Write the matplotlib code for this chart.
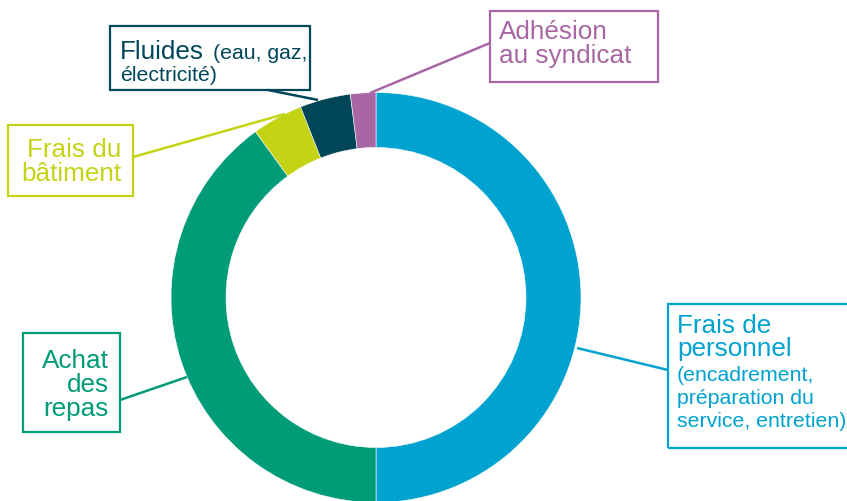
import matplotlib.pyplot as plt
from matplotlib.patches import Rectangle

# -----------------------------
# Data
# -----------------------------
categories = ["Frais de personnel", "Achat des repas", "Frais du bâtiment",
              "Fluides", "Adhésion au syndicat"]
shares = [50, 40, 4, 4, 2]
colors = ["#00A2D0", "#009B77", "#C4D313", "#004659", "#A866A4"]

W, H = 847, 501
plt.rcParams["font.family"] = ["Liberation Sans", "DejaVu Sans"]

fig = plt.figure(figsize=(W / 100, H / 100), dpi=100)
ax = fig.add_axes([0, 0, 1, 1])
ax.set_xlim(0, W)
ax.set_ylim(0, H)
ax.set_aspect("equal")
ax.axis("off")


def Y(y):
    # image row (top down) -> axes y
    return H - y


# donut
ax.pie(shares, colors=colors, startangle=90, counterclock=False,
       center=(376, Y(297.5)), radius=205,
       wedgeprops=dict(width=55, edgecolor="white", linewidth=0.4))
ax.set_xlim(0, W)
ax.set_ylim(0, H)

BIG = 18.8
SMALL = 15.3


def box(x0, y0, x1, y1, color):
    ax.add_patch(Rectangle((x0, Y(y1)), x1 - x0, y1 - y0, fill=False,
                           edgecolor=color, linewidth=1.6, clip_on=False))


def line(p, q, color):
    ax.plot([p[0], q[0]], [Y(p[1]), Y(q[1])], color=color, lw=1.8,
            solid_capstyle="butt")


def txt(x, y, s, color, size, ha="left"):
    ax.text(x, Y(y), s, color=color, fontsize=size, ha=ha, va="baseline")


c_pers, c_repas, c_bat, c_flu, c_adh = colors

# Adhésion au syndicat
line((370, 93), (490, 43), c_adh)
box(490, 11, 658, 82, c_adh)
txt(499, 39, "Adhésion", c_adh, BIG)
txt(499, 63, "au syndicat", c_adh, BIG)

# Fluides
line((318, 100), (268, 90), c_flu)
box(110, 26, 310, 90, c_flu)
txt(120, 59, "Fluides", c_flu, BIG)
txt(213, 59, "(eau, gaz,", c_flu, SMALL)
txt(120, 81, "électricité)", c_flu, SMALL)

# Frais du bâtiment
line((285, 114), (133, 157), c_bat)
box(8, 125, 133, 196, c_bat)
txt(121, 157, "Frais du", c_bat, BIG, ha="right")
txt(121, 181, "bâtiment", c_bat, BIG, ha="right")

# Frais de personnel
line((577, 348), (668, 370), c_pers)
box(668, 304, 850, 448, c_pers)
txt(677, 333, "Frais de", c_pers, BIG)
txt(677, 356, "personnel", c_pers, BIG)
txt(677, 381, "(encadrement,", c_pers, SMALL)
txt(677, 404, "préparation du", c_pers, SMALL)
txt(677, 427, "service, entretien)", c_pers, SMALL)

# Achat des repas
line((187, 377), (120, 400), c_repas)
box(23, 333, 120, 432, c_repas)
txt(109, 368, "Achat", c_repas, BIG, ha="right")
txt(109, 392, "des", c_repas, BIG, ha="right")
txt(109, 416, "repas", c_repas, BIG, ha="right")

fig.savefig("out.png", dpi=100)
